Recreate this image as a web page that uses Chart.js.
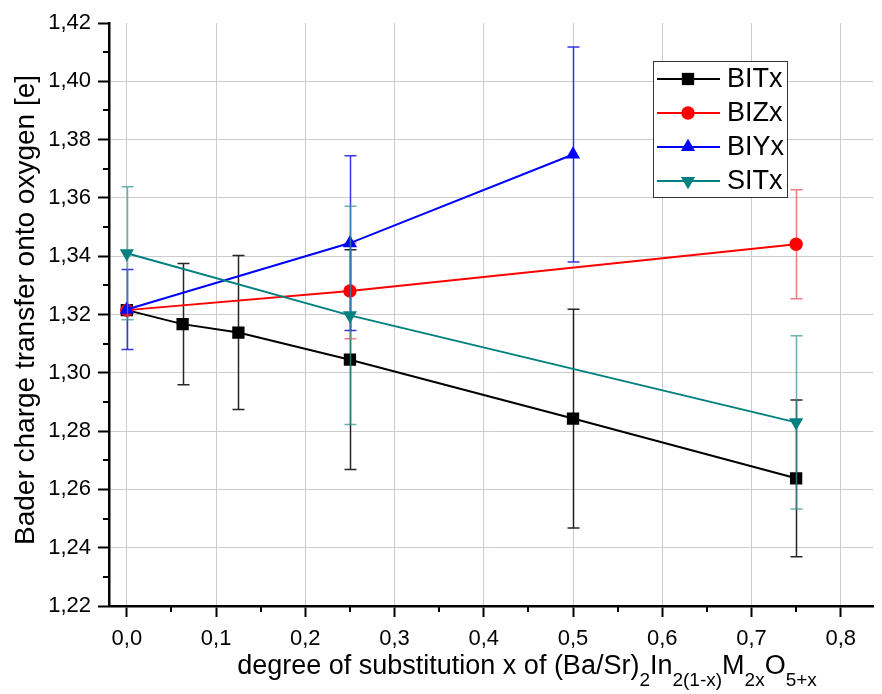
<!DOCTYPE html>
<html>
<head>
<meta charset="utf-8">
<script src="https://cdn.jsdelivr.net/npm/chart.js@4.4.1/dist/chart.umd.min.js"></script>
<style>
  html, body { margin: 0; padding: 0; background: #fff; overflow: hidden; }
  #wrap { width: 882px; height: 694px; }
</style>
</head>
<body>
<div id="wrap"><canvas id="baderChart" width="882" height="694"></canvas></div>
<script>
// values
const bitX = [0, 0.0625, 0.125, 0.25, 0.5, 0.75];
const bitY = [1.3215, 1.3167, 1.3138, 1.3045, 1.2843, 1.2638];
const bitErr = [0, 0.0208, 0.0264, 0.0377, 0.0375, 0.0269];

const bizX = [0, 0.25, 0.75];
const bizY = [1.3215, 1.3281, 1.3441];
const bizErr = [0, 0.0164, 0.0187];

const biyX = [0, 0.25, 0.5];
const biyY = [1.3217, 1.3445, 1.3749];
const biyErr = [0.0137, 0.0300, 0.0369];

const sitX = [0, 0.25, 0.75];
const sitY = [1.3410, 1.3197, 1.2830];
const sitErr = [0.0228, 0.0374, 0.0297];

const xTicks = [0, 0.1, 0.2, 0.3, 0.4, 0.5, 0.6, 0.7, 0.8];
const xMinor = [0.05, 0.15, 0.25, 0.35, 0.45, 0.55, 0.65, 0.75];
const yTicks = [1.22, 1.24, 1.26, 1.28, 1.30, 1.32, 1.34, 1.36, 1.38, 1.40, 1.42];
const yMinor = [1.23, 1.25, 1.27, 1.29, 1.31, 1.33, 1.35, 1.37, 1.39, 1.41];

const FONT = '"Liberation Sans", Arial, sans-serif';

function pts(xs, ys) {
    return xs.map((x, i) => ({ x: x, y: ys[i] }));
}

function series(label, xs, ys, errs, color, errColor, style, radius, rotation, order) {
    return {
        label: label,
        data: pts(xs, ys),
        errors: errs,
        errColor: errColor,
        borderColor: color,
        backgroundColor: color,
        borderWidth: 2,
        showLine: true,
        pointStyle: style,
        pointRadius: radius,
        pointHoverRadius: radius,
        pointRotation: rotation,
        pointBorderWidth: 0,
        order: order
    };
}

// error bars, drawn just before each series so later series sit on top
const errorBars = {
    id: 'errorBars',
    beforeDatasetDraw(chart, args) {
        const ds = chart.data.datasets[args.index];
        const ctx = chart.ctx;
        const xs = chart.scales.x, ys = chart.scales.y;
        ctx.save();
        ctx.strokeStyle = ds.errColor;
        ctx.lineWidth = 1.5;
        ds.data.forEach((p, i) => {
            const e = ds.errors[i];
            if (!e) return;
            const px = Math.round(xs.getPixelForValue(p.x)) + 0.5;
            const top = ys.getPixelForValue(p.y + e);
            const bot = ys.getPixelForValue(p.y - e);
            ctx.beginPath();
            ctx.moveTo(px, top); ctx.lineTo(px, bot);
            ctx.moveTo(px - 6, top); ctx.lineTo(px + 6, top);
            ctx.moveTo(px - 6, bot); ctx.lineTo(px + 6, bot);
            ctx.stroke();
        });
        ctx.restore();
    }
};

// minor ticks, axis titles and the boxed legend
const decorations = {
    id: 'decorations',
    afterDraw(chart) {
        const ctx = chart.ctx;
        const xs = chart.scales.x, ys = chart.scales.y;
        const area = chart.chartArea;
        ctx.save();
        ctx.strokeStyle = '#000';
        ctx.lineWidth = 2;
        ctx.beginPath();
        yMinor.forEach(v => {
            const py = Math.round(ys.getPixelForValue(v));
            ctx.moveTo(area.left - 6, py); ctx.lineTo(area.left, py);
        });
        xMinor.forEach(v => {
            const px = Math.round(xs.getPixelForValue(v));
            ctx.moveTo(px, area.bottom); ctx.lineTo(px, area.bottom + 6);
        });
        ctx.stroke();

        // y title
        ctx.fillStyle = '#000';
        ctx.font = '28px ' + FONT;
        ctx.textAlign = 'left';
        ctx.textBaseline = 'alphabetic';
        ctx.save();
        ctx.translate(34, 545);
        ctx.rotate(-Math.PI / 2);
        ctx.fillText('Bader charge transfer onto oxygen [e]', 0, 0);
        ctx.restore();

        // x title with subscripts
        const parts = [
            ['degree of substitution x of (Ba/Sr)', false], ['2', true], ['In', false],
            ['2(1-x)', true], ['M', false], ['2x', true], ['O', false], ['5+x', true]
        ];
        const big = '27px ' + FONT, small = '19px ' + FONT;
        let total = 0;
        parts.forEach(p => { ctx.font = p[1] ? small : big; total += ctx.measureText(p[0]).width; });
        let cx = 527 - total / 2;
        ctx.textAlign = 'left';
        ctx.textBaseline = 'alphabetic';
        parts.forEach(p => {
            ctx.font = p[1] ? small : big;
            ctx.fillText(p[0], cx, p[1] ? 686 : 674);
            cx += ctx.measureText(p[0]).width;
        });

        // legend
        const box = { l: 653, t: 61, r: 787, b: 197 };
        ctx.fillStyle = '#fff';
        ctx.fillRect(box.l, box.t, box.r - box.l, box.b - box.t);
        ctx.strokeStyle = '#333';
        ctx.lineWidth = 1;
        ctx.strokeRect(box.l + 0.5, box.t + 0.5, box.r - box.l, box.b - box.t);
        const rows = [79, 113, 147, 181];
        chart.data.datasets.forEach((ds, i) => {
            const y = rows[i];
            ctx.strokeStyle = ds.borderColor;
            ctx.lineWidth = 2;
            ctx.beginPath();
            ctx.moveTo(657, y); ctx.lineTo(720, y);
            ctx.stroke();
            ctx.fillStyle = ds.backgroundColor;
            Chart.helpers.drawPoint(ctx, {
                pointStyle: ds.pointStyle, radius: ds.pointRadius,
                rotation: ds.pointRotation, borderWidth: 0
            }, 688, y);
            ctx.fillStyle = '#000';
            ctx.font = '27px ' + FONT;
            ctx.textBaseline = 'middle';
            ctx.fillText(ds.label, 727, y + 1);
        });
        ctx.restore();
    }
};

const ctx = document.getElementById('baderChart').getContext('2d');
new Chart(ctx, {
    type: 'scatter',
    data: {
        datasets: [
            series('BITx', bitX, bitY, bitErr, '#000000', 'rgba(0,0,0,0.85)', 'rect', 8.7, 0, 3),
            series('BIZx', bizX, bizY, bizErr, '#ff0000', 'rgba(240,90,90,0.8)', 'circle', 6.7, 0, 2),
            series('BIYx', biyX, biyY, biyErr, '#0000ff', 'rgba(20,20,230,0.85)', 'triangle', 8.2, 0, 1),
            series('SITx', sitX, sitY, sitErr, '#008080', 'rgba(60,150,150,0.75)', 'triangle', 8.2, 180, 0)
        ]
    },
    options: {
        responsive: false,
        animation: false,
        layout: { padding: { top: 23, right: 0, left: 0, bottom: 0 } },
        plugins: {
            legend: { display: false },
            tooltip: { enabled: false }
        },
        scales: {
            x: {
                type: 'linear',
                min: -0.02,
                max: 0.8365,
                afterBuildTicks: scale => { scale.ticks = xTicks.map(v => ({ value: v })); },
                afterFit: scale => { scale.height = 88; },
                ticks: {
                    color: '#000',
                    padding: 9,
                    maxRotation: 0,
                    font: { family: FONT, size: 22 },
                    callback: v => v.toFixed(1).replace('.', ',')
                },
                grid: {
                    color: '#cccccc',
                    lineWidth: 1,
                    tickColor: '#000',
                    tickWidth: 2,
                    tickLength: 11
                },
                border: { color: '#000', width: 2.5 }
            },
            y: {
                type: 'linear',
                min: 1.22,
                max: 1.42,
                afterBuildTicks: scale => { scale.ticks = yTicks.map(v => ({ value: v })); },
                afterFit: scale => { scale.width = 109; },
                ticks: {
                    color: '#000',
                    padding: 7,
                    font: { family: FONT, size: 22 },
                    callback: v => v.toFixed(2).replace('.', ',')
                },
                grid: {
                    color: c => (c.tick && c.tick.value >= 1.42 ? 'rgba(0,0,0,0)' : '#cccccc'),
                    lineWidth: 1,
                    tickColor: '#000',
                    tickWidth: 2,
                    tickLength: 11
                },
                border: { color: '#000', width: 2.5 }
            }
        }
    },
    plugins: [errorBars, decorations]
});
</script>
</body>
</html>
